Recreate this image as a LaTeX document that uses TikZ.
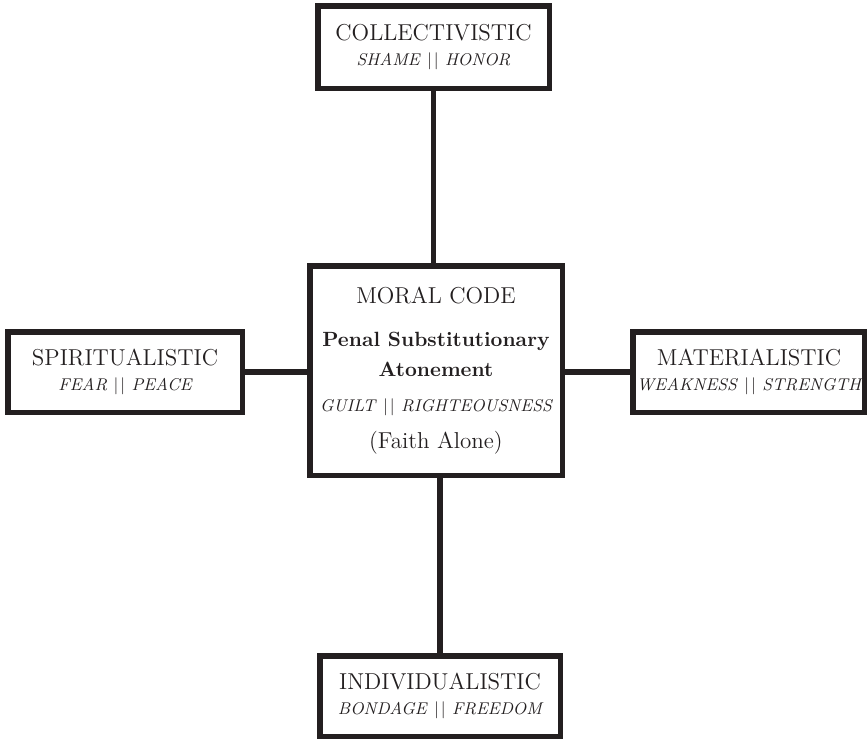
\documentclass[tikz,border=0pt]{standalone}
\definecolor{ink}{RGB}{35,31,32}
\tikzset{
  box/.style={draw=ink, text=ink, line width=2.75pt, inner sep=2pt, align=center,
    font=\fontsize{11.5}{12.5}\selectfont},
  link/.style={draw=ink, line width=2.75pt}
}
\newcommand{\bars}{~\textup{|\kern1pt|}~}
\newcommand{\pair}[2]{{\itshape\fontsize{8.5}{12.5}\selectfont #1\bars#2}}
\begin{document}
\begin{tikzpicture}[x=0.5pt, y=-0.5pt]
        \useasboundingbox (0,0) rectangle (867,740);

        % Boxes
        \node[box, minimum width=115.75pt, minimum height=41.25pt] (collect) at (433.5,47)
          {COLLECTIVISTIC\\\pair{SHAME}{HONOR}};
        \node[box, minimum width=126.25pt, minimum height=104.75pt,
          font=\fontsize{11.5}{15}\selectfont] (moral) at (436,370.5)
          {MORAL CODE\\[6.5pt]
           {\bfseries\fontsize{10.3}{15}\selectfont Penal Substitutionary}\\
           {\bfseries\fontsize{10.3}{15}\selectfont Atonement}\\[2.5pt]
           {\itshape\fontsize{8.5}{15}\selectfont GUILT\bars RIGHTEOUSNESS}\\[3.5pt]
           (Faith Alone)};
        \node[box, minimum width=117.25pt, minimum height=40.25pt] (spirit) at (125,372)
          {SPIRITUALISTIC\\\pair{FEAR}{PEACE}};
        \node[box, minimum width=114.25pt, minimum height=40.25pt] (material) at (749,372)
          {MATERIALISTIC\\\pair{WEAKNESS}{STRENGTH}};
        \node[box, minimum width=120.25pt, minimum height=40.25pt] (indiv) at (440,696)
          {INDIVIDUALISTIC\\\pair{BONDAGE}{FREEDOM}};

        % Links
        \draw[link] (collect.south) -- (collect.south |- moral.north);
        \draw[link] (indiv.north) -- (indiv.north |- moral.south);
        \draw[link] (spirit.east) -- (spirit.east -| moral.west);
        \draw[link] (material.west) -- (material.west -| moral.east);
    \end{tikzpicture}
\end{document}
